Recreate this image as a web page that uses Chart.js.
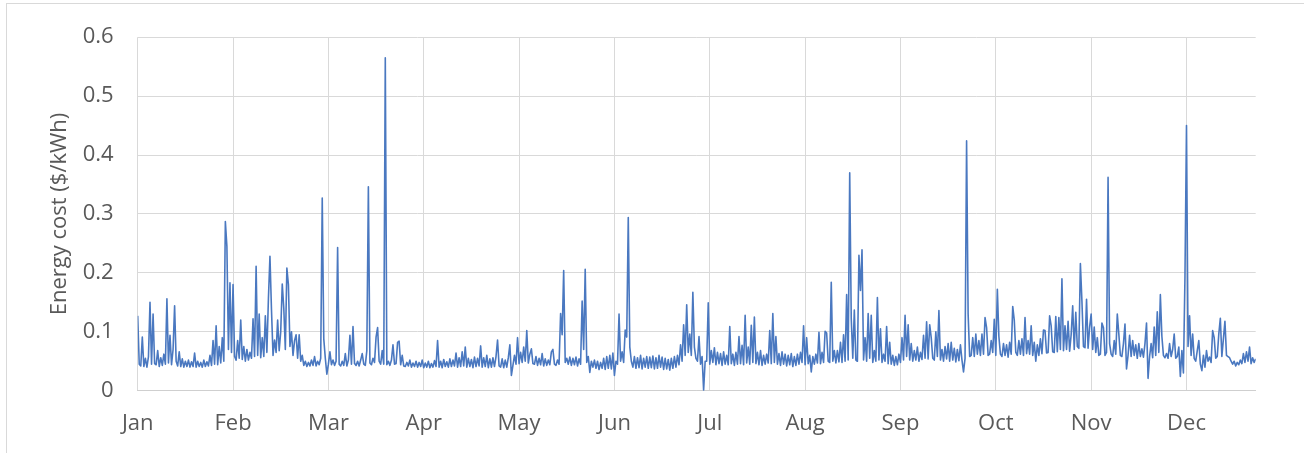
<!DOCTYPE html>
<html><head><meta charset="utf-8">
<script src="https://cdn.jsdelivr.net/npm/chart.js@4.4.1/dist/chart.umd.min.js"></script>
<style>html,body{margin:0;padding:0;background:#fff;}#wrap{width:1304px;height:453px;position:relative;}</style>
</head><body><div id="wrap"><canvas id="c" width="1304" height="453"></canvas></div>
<script>
// Axis labels
const monthLabels = ['Jan','Feb','Mar','Apr','May','Jun','Jul','Aug','Sep','Oct','Nov','Dec'];
const monthStartDays = [0,31,62,93,124,155,186,217,248,279,310,341];
const yTickValues = [0,0.1,0.2,0.3,0.4,0.5,0.6];
const yTickLabels = ['0','0.1','0.2','0.3','0.4','0.5','0.6'];
const axisEndDay = 363.5;

// Energy cost ($/kWh), two samples per day (start of day, mid-day)
const jan = [.127,.045, .042,.091, .041,.055, .040,.058, .150,.045, .130,.046, .044,.068, .041,.056, .043,.062, .045,.156,
  .047,.094, .044,.070, .144,.050, .042,.066, .041,.054, .040,.050, .041,.052, .040,.049, .041,.064, .040,.050,
  .041,.048, .040,.052, .041,.049, .042,.060, .043,.085, .045,.110, .044,.075, .047,.090, .050,.287, .245,.070,
  .183,.065];
const feb = [.180,.058, .052,.085, .055,.120, .053,.075, .050,.070, .052,.065, .055,.122, .058,.211, .060,.130, .056,.090,
  .058,.127, .065,.156, .228,.137, .060,.086, .065,.120, .068,.100, .181,.140, .070,.208, .180,.075, .100,.060,
  .085,.095, .055,.095, .050,.060, .043,.050, .041,.048, .042,.052, .043,.058, .042,.050, .044,.055, .327,.088,
  .055,.028];
const mar = [.045,.066, .044,.052, .043,.050, .243,.045, .042,.050, .043,.063, .042,.052, .094,.045, .109,.046, .043,.050,
  .042,.052, .063,.045, .043,.068, .346,.047, .044,.055, .048,.091, .107,.050, .045,.068, .045,.565, .044,.050,
  .043,.052, .078,.045, .046,.082, .084,.044, .060,.042, .041,.048, .042,.052, .040,.047, .041,.050, .040,.048,
  .041,.052];
const apr = [.039,.047, .040,.050, .039,.046, .040,.051, .041,.085, .040,.050, .039,.053, .041,.049, .040,.054, .041,.052,
  .042,.064, .040,.056, .041,.066, .042,.074, .040,.055, .041,.053, .039,.057, .041,.055, .042,.076, .040,.056,
  .041,.060, .039,.054, .040,.056, .041,.058, .086,.042, .040,.054, .039,.052, .040,.056, .078,.026, .043,.060,
  .045,.090];
const may = [.046,.065, .048,.074, .050,.102, .047,.062, .071,.046, .045,.058, .043,.055, .044,.063, .042,.054, .043,.052,
  .044,.066, .070,.045, .043,.052, .045,.131, .095,.204, .048,.055, .045,.057, .043,.055, .044,.057, .042,.054,
  .045,.152, .070,.206, .048,.058, .031,.050, .040,.052, .038,.050, .036,.048, .038,.055, .036,.058, .038,.060,
  .037,.064];
const jun = [.026,.050, .045,.130, .050,.066, .048,.103, .091,.294, .074,.050, .040,.058, .038,.056, .039,.060, .037,.055,
  .040,.058, .038,.057, .039,.059, .037,.056, .038,.060, .040,.057, .036,.055, .037,.053, .035,.055, .038,.058,
  .040,.060, .044,.078, .050,.112, .060,.146, .065,.096, .060,.167, .074,.055, .050,.092, .045,.058, .001,.050,
  .050,.149];
const jul = [.045,.068, .048,.073, .044,.065, .046,.063, .043,.066, .045,.060, .044,.109, .046,.062, .043,.065, .045,.092,
  .046,.077, .044,.128, .047,.074, .045,.111, .048,.125, .046,.065, .044,.068, .043,.060, .045,.062, .047,.102,
  .046,.131, .048,.092, .045,.063, .043,.066, .045,.062, .042,.060, .044,.063, .041,.058, .043,.062, .045,.065,
  .048,.110];
const aug = [.044,.090, .046,.060, .032,.058, .045,.062, .047,.099, .046,.065, .048,.101, .098,.050, .048,.184, .050,.068,
  .047,.068, .049,.082, .048,.095, .050,.163, .052,.370, .122,.055, .137,.052, .050,.230, .170,.239, .052,.090,
  .050,.131, .055,.128, .048,.068, .050,.158, .052,.105, .048,.062, .050,.109, .046,.082, .045,.060, .043,.058,
  .044,.062];
const sep = [.048,.090, .052,.128, .058,.112, .052,.080, .050,.068, .052,.074, .050,.065, .053,.094, .055,.117, .054,.112,
  .090,.055, .052,.100, .058,.136, .052,.070, .050,.075, .054,.080, .050,.082, .052,.072, .049,.070, .051,.078,
  .052,.032, .055,.424, .130,.058, .060,.090, .058,.096, .062,.085, .060,.096, .062,.124, .107,.060, .062,.085,
  .065,.121];
const oct = [.060,.172, .092,.062, .058,.080, .060,.078, .057,.082, .062,.143, .120,.065, .060,.085, .062,.088, .060,.124,
  .063,.085, .062,.110, .060,.082, .050,.078, .060,.088, .063,.103, .102,.064, .065,.127, .110,.066, .065,.126,
  .066,.124, .070,.190, .068,.110, .070,.118, .067,.095, .144,.070, .133,.075, .072,.216, .152,.075, .073,.155,
  .072,.108];
const nov = [.130,.070, .108,.065, .090,.060, .062,.115, .107,.060, .065,.362, .080,.062, .058,.085, .062,.130, .096,.060,
  .058,.080, .113,.037, .060,.094, .058,.085, .060,.078, .055,.080, .058,.071, .057,.080, .115,.021, .058,.080,
  .056,.108, .060,.134, .065,.163, .092,.060, .056,.063, .055,.080, .058,.070, .096,.055, .058,.074, .024,.068,
  .030,.192];
const dec = [.450,.075, .127,.060, .096,.055, .050,.068, .085,.045, .034,.060, .040,.068, .050,.057, .048,.102, .090,.055,
  .058,.096, .123,.058, .088,.118, .060,.058, .056,.050, .045,.050, .042,.048, .044,.052, .046,.063, .048,.066,
  .050,.074, .046,.056, .048,.054];

const monthSeries = [jan,feb,mar,apr,may,jun,jul,aug,sep,oct,nov,dec];
const points = [];
monthSeries.forEach((arr, m) => arr.forEach((v, i) => points.push({x: monthStartDays[m] + i / 2, y: v})));

const FONT = {family: "'Open Sans', 'Noto Sans', sans-serif", size: 22};
const TXT = '#595959';

const frame = {
  id: 'frame',
  beforeDraw(chart) {
    const ctx = chart.ctx;
    ctx.save();
    ctx.fillStyle = '#ffffff';
    ctx.fillRect(0, 0, chart.width, chart.height);
    ctx.strokeStyle = '#d9d9d9';
    ctx.lineWidth = 1;
    ctx.strokeRect(6.5, 3.5, 1320, 470);
    ctx.restore();
  }
};

new Chart(document.getElementById('c'), {
  type: 'line',
  data: {datasets: [{data: points, borderColor: '#4a78c0', borderWidth: 1.6, pointRadius: 0, tension: 0, borderJoinStyle: 'round', fill: false}]},
  options: {
    responsive: false, animation: false, devicePixelRatio: 1, parsing: false,
    layout: {padding: {top: 33.5, right: 48.3, bottom: 0, left: 0}},
    plugins: {legend: {display: false}, tooltip: {enabled: false}},
    scales: {
      x: {
        type: 'linear', min: 0, max: axisEndDay,
        afterBuildTicks: s => { s.ticks = monthStartDays.map(v => ({value: v})); },
        afterFit: s => { s.height = 62.3; },
        ticks: {autoSkip: false, maxRotation: 0, minRotation: 0, padding: 20, color: TXT, font: FONT,
          callback: (v) => monthLabels[monthStartDays.indexOf(v)]},
        grid: {color: '#d9d9d9', lineWidth: 1, drawTicks: false},
        border: {display: true, color: '#cfcfcf', width: 1}
      },
      y: {
        min: 0, max: 0.6,
        afterBuildTicks: s => { s.ticks = yTickValues.map(v => ({value: v})); },
        afterFit: s => { s.width = 137.7; },
        ticks: {padding: 24, color: TXT, font: FONT, callback: (v, i) => yTickLabels[i]},
        grid: {color: '#d9d9d9', lineWidth: 1, drawTicks: false},
        border: {display: false},
        title: {display: true, text: 'Energy cost ($/kWh)', color: TXT, font: FONT, padding: {top: 47, bottom: 0}}
      }
    }
  },
  plugins: [frame]
});
</script>
</body></html>
